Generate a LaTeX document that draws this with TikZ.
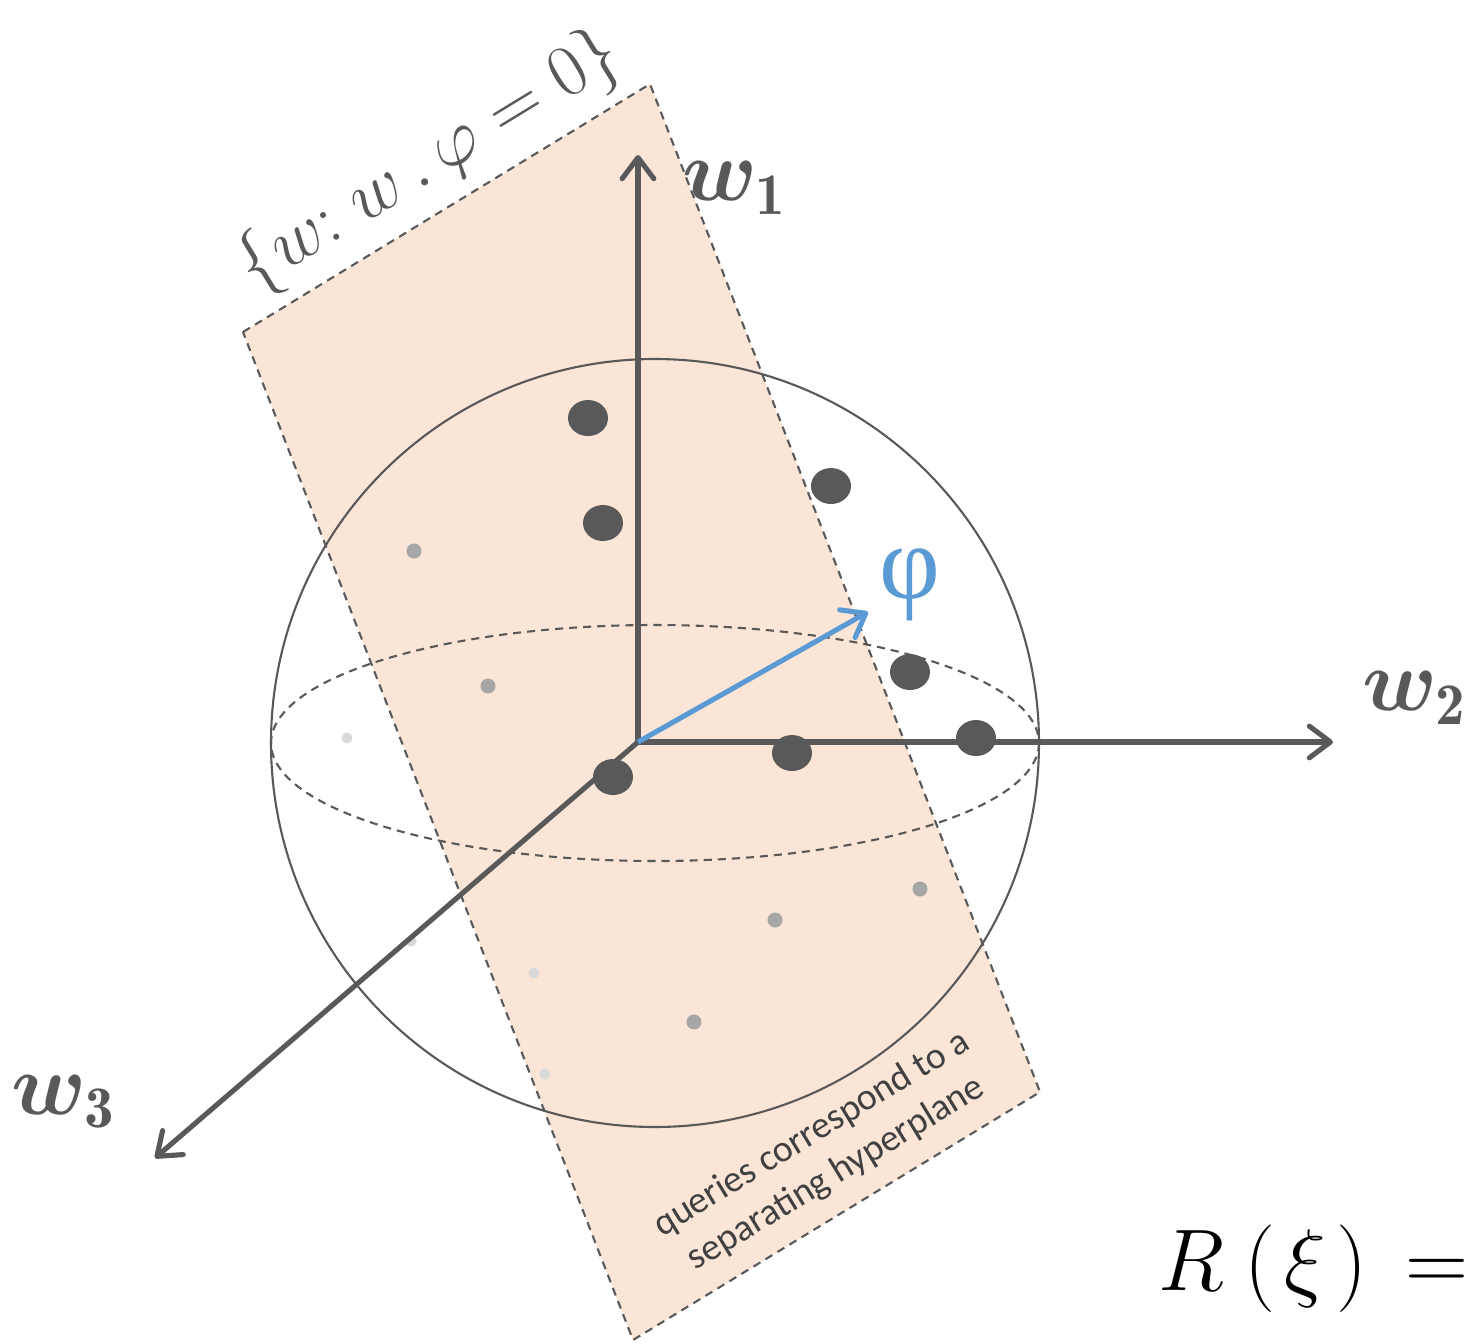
\documentclass[tikz,border=0pt]{standalone}
\usepackage{amsmath,bm}
\usepackage{fontspec}
\newfontfamily\carlito{Carlito}
\newfontfamily\libserif{Liberation Serif}
\usetikzlibrary{arrows.meta,shapes.geometric}
\definecolor{ax}{HTML}{595959}
\definecolor{planefill}{HTML}{FBE5D6}
\definecolor{phiblue}{HTML}{5B9BD5}
\definecolor{lgrey}{HTML}{A6A6A6}
\definecolor{vlgrey}{HTML}{D9D9D9}
\definecolor{txtgrey}{HTML}{404040}
\begin{document}
\begin{tikzpicture}[x=0.01cm,y=-0.01cm,
  dashedline/.style={draw=ax,line width=0.6pt,dash pattern=on 2.3pt off 1.7pt},
  sphereline/.style={draw=ax,line width=0.6pt},
  axisline/.style={draw=ax,line width=1.45pt,-{Straight Barb[round,length=6pt,width=9pt]}},
  philine/.style={draw=phiblue,line width=1.45pt,-{Straight Barb[round,length=6pt,width=9pt]}},
  axlab/.style={text=ax,font=\fontsize{24}{28}\selectfont,inner sep=0pt},
  bigdot/.style={ellipse,fill=ax,minimum width=0.4cm,minimum height=0.36cm,inner sep=0pt},
  greydot/.style={circle,fill=lgrey,minimum size=0.15cm,inner sep=0pt},
  faintdot/.style={circle,fill=vlgrey,minimum size=0.11cm,inner sep=0pt}]
\useasboundingbox (0,0) rectangle (1468,1344);
% plane
\coordinate (P1) at (243,332);
\coordinate (P2) at (650,84);
\coordinate (P3) at (1040,1092);
\coordinate (P4) at (633,1340);
\fill[planefill] (P1)--(P2)--(P3)--(P4)--cycle;
% sphere
\coordinate (C) at (655,743);
\draw[sphereline] (C) circle [radius=384];
\draw[dashedline] (C) ellipse [x radius=384, y radius=118];
\draw[dashedline] (P1)--(P2)--(P3)--(P4)--cycle;
% faint dots
\node[greydot] (g1) at (414,551) {};
\node[greydot] (g2) at (488,686) {};
\node[greydot] (g3) at (775,920) {};
\node[greydot] (g4) at (920,889) {};
\node[greydot] (g5) at (694,1022) {};
\node[faintdot] (f1) at (347,738) {};
\node[faintdot] (f2) at (411,941) {};
\node[faintdot] (f3) at (534,973) {};
\node[faintdot] (f4) at (545,1074) {};
% axes
\coordinate (O) at (638,742);
\coordinate (E1) at (638,155);
\coordinate (E2) at (1333,742);
\coordinate (E3) at (155,1158);
\draw[axisline] (O) -- (E1);
\draw[axisline] (O) -- (E2);
\draw[axisline] (O) -- (E3);
% big dots
\node[bigdot] (d1) at (588,418) {};
\node[bigdot] (d2) at (603,523) {};
\node[bigdot] (d3) at (831,486) {};
\node[bigdot] (d4) at (910,672) {};
\node[bigdot] (d5) at (976,738) {};
\node[bigdot] (d6) at (792,753) {};
\node[bigdot] (d7) at (613,777) {};
% phi
\coordinate (Phi) at (868,612);
\draw[philine] (O) -- (Phi);
\node[text=phiblue,font=\libserif\fontsize{30}{34}\selectfont] (philab) at (910,585) {φ};
% axis labels
\node[axlab] (L1) at (735,188) {$\bm{w}_{\mathbf{1}}$};
\node[axlab] (L2) at (1415,698) {$\bm{w}_{\mathbf{2}}$};
\node[axlab] (L3) at (64,1102) {$\bm{w}_{\mathbf{3}}$};
% plane label
\node[text=ax,rotate=31.4,font=\fontsize{21.5}{25}\selectfont] (plab) at (430,162) {$\{w{:}\;w\,.\,\varphi=0\}$};
% queries text
\node[text=txtgrey,rotate=31.4,align=center,font=\carlito\fontsize{10.7}{13.2}\selectfont] (qtext) at (824,1154) {queries correspond to a\\separating hyperplane};
% R
\node[anchor=base west,inner sep=0pt,font=\fontsize{30}{34}\selectfont] (R) at (1158,1290) {$R\mskip4mu(\mskip2mu\xi\mskip2mu)\,=$};
\end{tikzpicture}
\end{document}
